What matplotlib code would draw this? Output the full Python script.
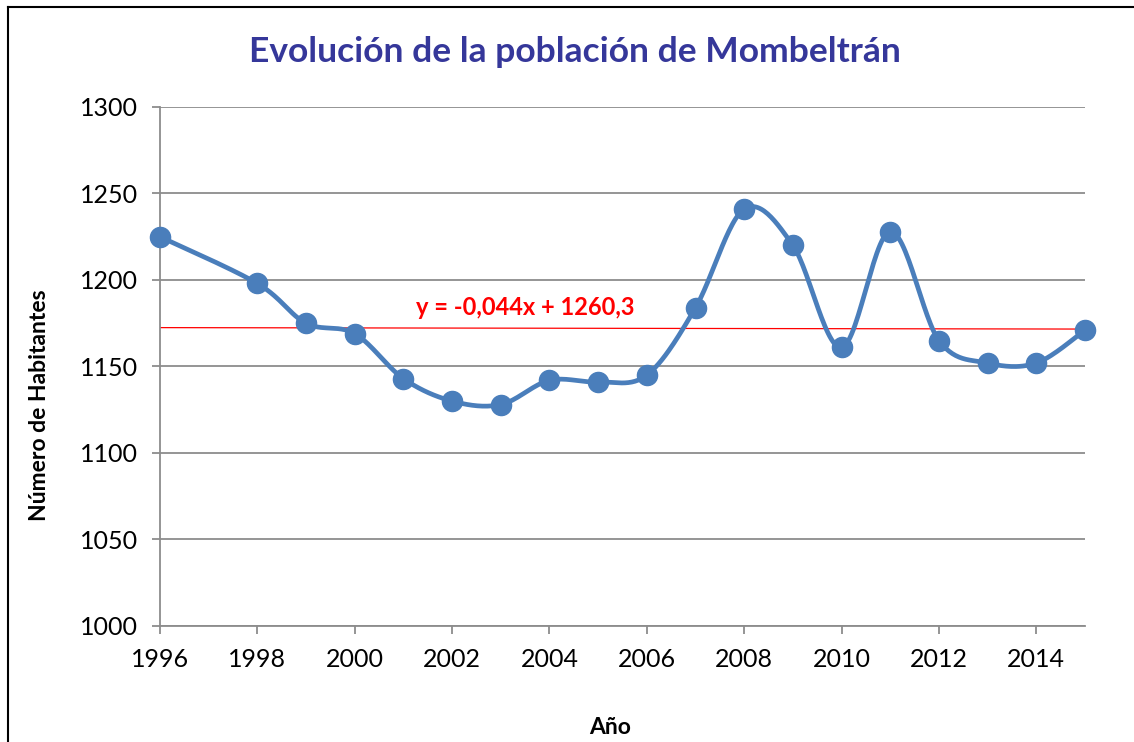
import matplotlib.pyplot as plt
from matplotlib.lines import Line2D
import numpy as np

# Datos
years = [1996, 1998, 1999, 2000, 2001, 2002, 2003, 2004, 2005, 2006,
         2007, 2008, 2009, 2010, 2011, 2012, 2013, 2014, 2015]
population = [1225, 1198, 1175, 1169, 1143, 1130, 1128, 1142, 1141, 1145,
              1184, 1241, 1220, 1161, 1228, 1165, 1152, 1152, 1171]
trend_slope = -0.044
trend_intercept = 1260.3
trend_label = "y = -0,044x + 1260,3"
x_ticks = [1996, 1998, 2000, 2002, 2004, 2006, 2008, 2010, 2012, 2014]
y_ticks = [1000, 1050, 1100, 1150, 1200, 1250, 1300]

plt.rcParams['font.family'] = ['Lato', 'DejaVu Sans']

W, H = 1134, 742
fig = plt.figure(figsize=(W / 100, H / 100), dpi=100)
ax = fig.add_axes([160 / W, 1 - 626 / H, 925 / W, 519 / H])

xmin, xmax = 1996, 2015
ymin, ymax = 1000, 1300
ax.set_xlim(xmin, xmax)
ax.set_ylim(ymin, ymax)

# curva suavizada tipo Excel (Bezier con puntos de control Catmull-Rom, en espacio de píxeles)
px = (np.array(years) - xmin) / (xmax - xmin) * 925
py = (np.array(population) - ymin) / (ymax - ymin) * 519
P = np.column_stack([px, py])
Pe = np.vstack([P[0], P, P[-1]])
t = np.linspace(0, 1, 30)[:, None]
segs = []
for i in range(1, len(Pe) - 2):
    p0, p1, p2, p3 = Pe[i - 1], Pe[i], Pe[i + 1], Pe[i + 2]
    c1 = p1 + (p2 - p0) / 6
    c2 = p2 - (p3 - p1) / 6
    b = ((1 - t) ** 3) * p1 + 3 * ((1 - t) ** 2) * t * c1 + 3 * (1 - t) * t ** 2 * c2 + t ** 3 * p2
    segs.append(b)
curve = np.vstack(segs)
cx = curve[:, 0] / 925 * (xmax - xmin) + xmin
cy = curve[:, 1] / 519 * (ymax - ymin) + ymin

grid_c = '#8c8c8c'
ax.set_yticks(y_ticks)
ax.set_xticks(x_ticks)
ax.grid(axis='y', color=grid_c, linewidth=1.3)
ax.set_axisbelow(True)
for s in ['top', 'right']:
    ax.spines[s].set_visible(False)
for s in ['left', 'bottom']:
    ax.spines[s].set_color(grid_c)
    ax.spines[s].set_linewidth(1.3)
ax.tick_params(axis='both', colors=grid_c, labelcolor='black', labelsize=18,
               length=6, width=1.3)
ax.tick_params(axis='y', pad=10)
ax.tick_params(axis='x', pad=10)

# línea de tendencia
tx = np.array([xmin, xmax])
ax.plot(tx, trend_intercept + trend_slope * tx, color='#ff0000', linewidth=0.9, zorder=2)
ax.text(2003.5, 1184, trend_label, color='#ff0000', fontsize=17, fontweight='bold',
        ha='center', va='center')

ax.plot(cx, cy, color='#4a7ebb', linewidth=3.4, zorder=3, solid_capstyle='round', clip_on=False)
ax.plot(years, population, 'o', color='#4a7ebb', markersize=14.5, zorder=4, clip_on=False)

fig.text(575 / W, 1 - 52 / H, "Evolución de la población de Mombeltrán", color='#35379a',
         fontsize=25.5, fontweight='bold', ha='center', va='center')
fig.text(40 / W, 1 - 405 / H, "Número de Habitantes", rotation=90, fontsize=16.5,
         fontweight='bold', ha='center', va='center')
fig.text(610 / W, 1 - 728 / H, "Año", fontsize=16.5, fontweight='bold', ha='center', va='center')

# borde del área del gráfico
fig.add_artist(Line2D([8 / W, 8 / W], [0, 1 - 7 / H], color='black', linewidth=1.5))
fig.add_artist(Line2D([8 / W, 1], [1 - 7 / H, 1 - 7 / H], color='black', linewidth=1.5))

fig.savefig('out.png', dpi=100)
